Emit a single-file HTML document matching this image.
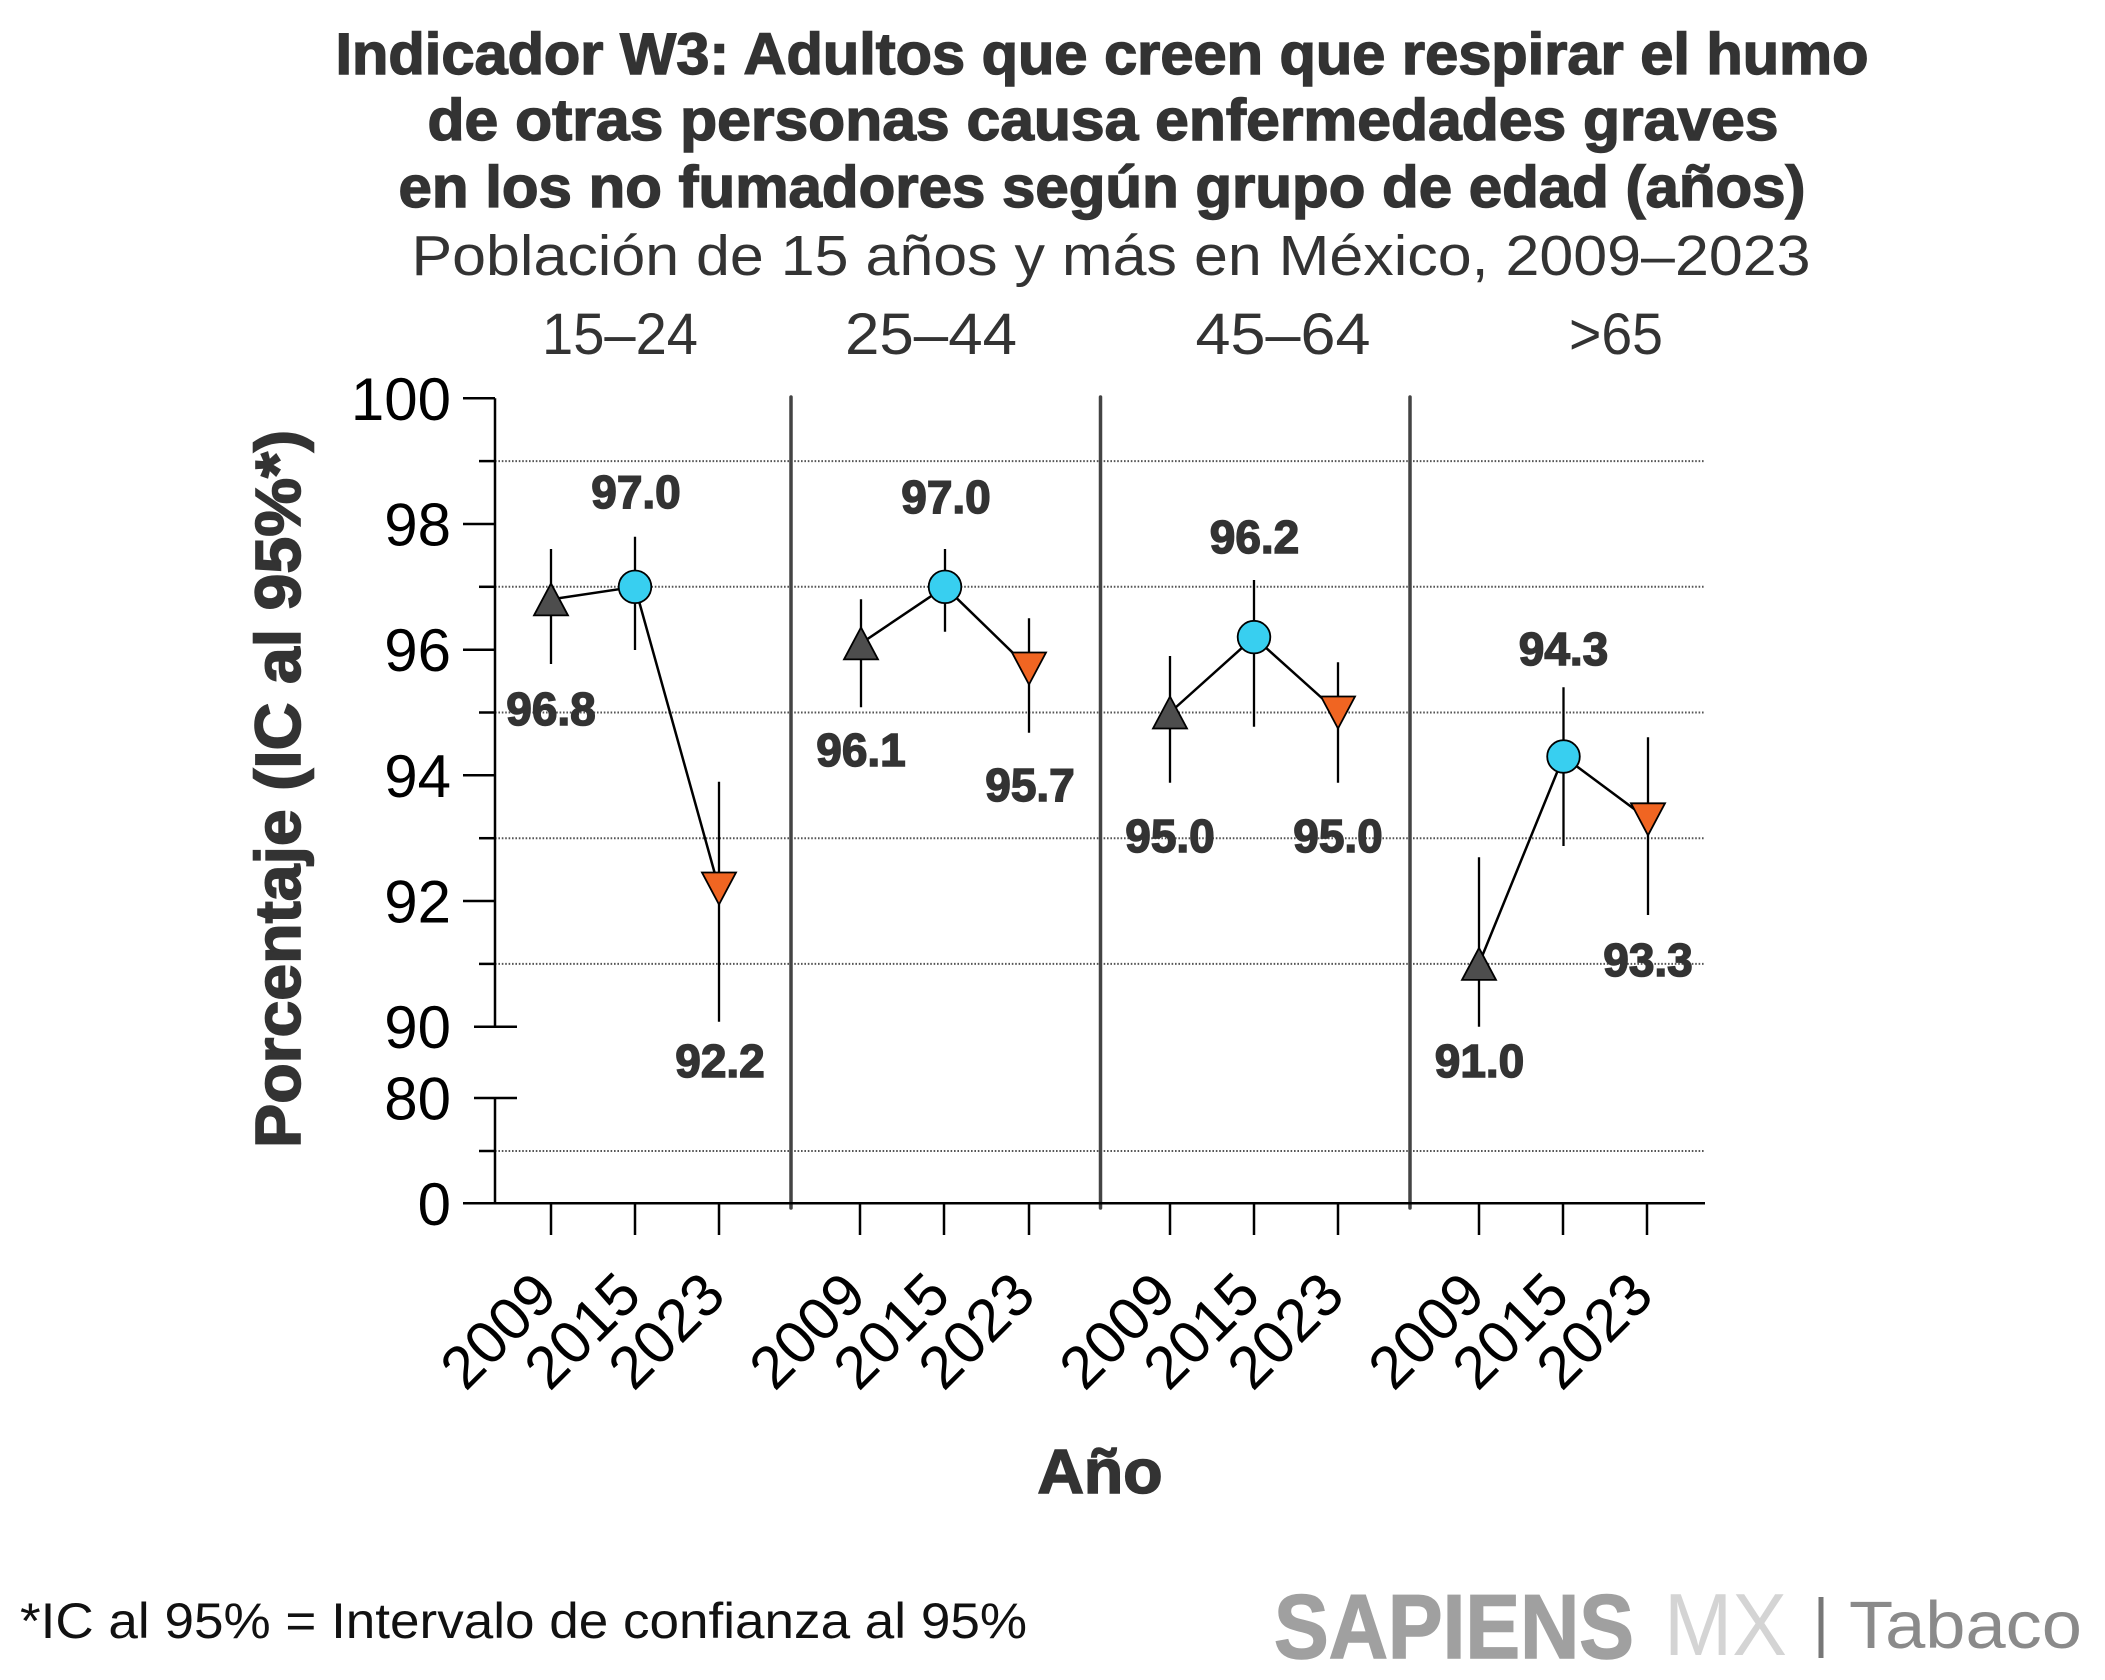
<!DOCTYPE html>
<html>
<head>
<meta charset="utf-8">
<style>
  html, body { margin: 0; padding: 0; background: #ffffff; }
  svg { display: block; }
  .t { font-family: "Liberation Sans", "DejaVu Sans", sans-serif; }
</style>
</head>
<body>
<svg width="2105" height="1680" viewBox="0 0 2105 1680" xmlns="http://www.w3.org/2000/svg">
  <rect x="0" y="0" width="2105" height="1680" fill="#ffffff"/>

  <!-- Title -->
  <g class="t" fill="#333333" stroke="#333333" stroke-width="1.4" font-weight="bold" font-size="58" text-anchor="middle">
    <text x="1102" y="74" textLength="1533" lengthAdjust="spacingAndGlyphs">Indicador W3: Adultos que creen que respirar el humo</text>
    <text x="1103" y="140" textLength="1351" lengthAdjust="spacingAndGlyphs">de otras personas causa enfermedades graves</text>
    <text x="1102" y="207" textLength="1407" lengthAdjust="spacingAndGlyphs">en los no fumadores según grupo de edad (años)</text>
  </g>
  <text class="t" x="1111" y="275" fill="#333333" font-size="57" text-anchor="middle" textLength="1399" lengthAdjust="spacingAndGlyphs">Población de 15 años y más en México, 2009–2023</text>

  <!-- Panel headers -->
  <g class="t" fill="#333333" font-size="58" text-anchor="middle">
    <text x="620" y="354" textLength="156" lengthAdjust="spacingAndGlyphs">15–24</text>
    <text x="931" y="354" textLength="172" lengthAdjust="spacingAndGlyphs">25–44</text>
    <text x="1283" y="354" textLength="175" lengthAdjust="spacingAndGlyphs">45–64</text>
    <text x="1616" y="354" textLength="94" lengthAdjust="spacingAndGlyphs">&gt;65</text>
  </g>

  <!-- Dotted gridlines -->
  <g stroke="#555555" stroke-width="2" stroke-dasharray="1.6 1.8" fill="none">
    <line x1="495" y1="461.1" x2="1705" y2="461.1"/>
    <line x1="495" y1="586.8" x2="1705" y2="586.8"/>
    <line x1="495" y1="712.5" x2="1705" y2="712.5"/>
    <line x1="495" y1="838.2" x2="1705" y2="838.2"/>
    <line x1="495" y1="963.9" x2="1705" y2="963.9"/>
    <line x1="495" y1="1151" x2="1705" y2="1151"/>
  </g>

  <!-- Panel dividers -->
  <g stroke="#444444" stroke-width="3.5" stroke-linecap="round">
    <line x1="791" y1="397" x2="791" y2="1208"/>
    <line x1="1100.5" y1="397" x2="1100.5" y2="1208"/>
    <line x1="1410" y1="397" x2="1410" y2="1208"/>
  </g>

  <!-- Y axis (broken) -->
  <g stroke="#000000" stroke-width="2.5" fill="none">
    <line x1="495" y1="398.3" x2="495" y2="1026.7"/>
    <line x1="495" y1="1098" x2="495" y2="1203.3"/>
    <line x1="463" y1="398.3" x2="495" y2="398.3"/>
    <line x1="463" y1="524" x2="495" y2="524"/>
    <line x1="463" y1="649.7" x2="495" y2="649.7"/>
    <line x1="463" y1="775.3" x2="495" y2="775.3"/>
    <line x1="463" y1="901" x2="495" y2="901"/>
    <line x1="474" y1="1026.7" x2="517" y2="1026.7"/>
    <line x1="474" y1="1098" x2="517" y2="1098"/>
    <line x1="479" y1="461.1" x2="495" y2="461.1"/>
    <line x1="479" y1="586.8" x2="495" y2="586.8"/>
    <line x1="479" y1="712.5" x2="495" y2="712.5"/>
    <line x1="479" y1="838.2" x2="495" y2="838.2"/>
    <line x1="479" y1="963.9" x2="495" y2="963.9"/>
    <line x1="479" y1="1151" x2="495" y2="1151"/>
    <line x1="463" y1="1203.3" x2="1705" y2="1203.3"/>
    <line x1="551" y1="1203.3" x2="551" y2="1235"/>
    <line x1="635" y1="1203.3" x2="635" y2="1235"/>
    <line x1="719" y1="1203.3" x2="719" y2="1235"/>
    <line x1="860" y1="1203.3" x2="860" y2="1235"/>
    <line x1="944" y1="1203.3" x2="944" y2="1235"/>
    <line x1="1029" y1="1203.3" x2="1029" y2="1235"/>
    <line x1="1170" y1="1203.3" x2="1170" y2="1235"/>
    <line x1="1254" y1="1203.3" x2="1254" y2="1235"/>
    <line x1="1338" y1="1203.3" x2="1338" y2="1235"/>
    <line x1="1479" y1="1203.3" x2="1479" y2="1235"/>
    <line x1="1563" y1="1203.3" x2="1563" y2="1235"/>
    <line x1="1647" y1="1203.3" x2="1647" y2="1235"/>
  </g>

  <!-- Y tick labels -->
  <g class="t" fill="#000000" font-size="60" text-anchor="end">
    <text x="451" y="420">100</text>
    <text x="451" y="545.5">98</text>
    <text x="451" y="671">96</text>
    <text x="451" y="797">94</text>
    <text x="451" y="922.5">92</text>
    <text x="451" y="1048">90</text>
    <text x="451" y="1119.5">80</text>
    <text x="451" y="1225">0</text>
  </g>

  <!-- Y axis title -->
  <text class="t" transform="translate(300,789) rotate(-90)" fill="#333333" stroke="#333333" stroke-width="1.6" font-weight="bold" font-size="64" text-anchor="middle" textLength="718" lengthAdjust="spacingAndGlyphs">Porcentaje (IC al 95%*)</text>

  <!-- X tick labels (rotated) -->
  <g class="t" fill="#000000" font-size="60" text-anchor="end">
    <text transform="translate(560,1298) rotate(-45)">2009</text>
    <text transform="translate(644,1298) rotate(-45)">2015</text>
    <text transform="translate(728,1298) rotate(-45)">2023</text>
    <text transform="translate(869,1298) rotate(-45)">2009</text>
    <text transform="translate(953,1298) rotate(-45)">2015</text>
    <text transform="translate(1038,1298) rotate(-45)">2023</text>
    <text transform="translate(1179,1298) rotate(-45)">2009</text>
    <text transform="translate(1263,1298) rotate(-45)">2015</text>
    <text transform="translate(1347,1298) rotate(-45)">2023</text>
    <text transform="translate(1488,1298) rotate(-45)">2009</text>
    <text transform="translate(1572,1298) rotate(-45)">2015</text>
    <text transform="translate(1656,1298) rotate(-45)">2023</text>
  </g>

  <!-- X axis title -->
  <text class="t" x="1100" y="1493" fill="#333333" stroke="#333333" stroke-width="1.6" font-weight="bold" font-size="62" text-anchor="middle" textLength="125" lengthAdjust="spacingAndGlyphs">Año</text>

  <!-- Error bars -->
  <g stroke="#000000" stroke-width="2.3">
    <line x1="551" y1="549" x2="551" y2="664"/>
    <line x1="635" y1="536.7" x2="635" y2="650"/>
    <line x1="719" y1="781.7" x2="719" y2="1021.7"/>
    <line x1="861" y1="599.3" x2="861" y2="707.3"/>
    <line x1="945" y1="549" x2="945" y2="631.7"/>
    <line x1="1029" y1="618.3" x2="1029" y2="732.7"/>
    <line x1="1170" y1="656" x2="1170" y2="782.7"/>
    <line x1="1254" y1="580" x2="1254" y2="726.7"/>
    <line x1="1338" y1="662.3" x2="1338" y2="782.7"/>
    <line x1="1479" y1="857.3" x2="1479" y2="1026.7"/>
    <line x1="1563.5" y1="687.3" x2="1563.5" y2="846"/>
    <line x1="1648" y1="737.3" x2="1648" y2="915"/>
  </g>

  <!-- Connecting lines -->
  <g stroke="#000000" stroke-width="2.5" fill="none" stroke-linejoin="round">
    <polyline points="551,599.4 635,586.8 719,888.5"/>
    <polyline points="861,643.4 945,586.8 1029,668.5"/>
    <polyline points="1170,712.5 1254,637.1 1338,712.5"/>
    <polyline points="1479,963.9 1563.5,756.5 1648,819.3"/>
  </g>

  <!-- Markers -->
  <g stroke="#000000" stroke-width="1.8" stroke-linejoin="miter">
    <polygon fill="#4d4d4d" points="551,583.4 534,615.4 568,615.4"/>
    <polygon fill="#4d4d4d" points="861,627.4 844,659.4 878,659.4"/>
    <polygon fill="#4d4d4d" points="1170,696.5 1153,728.5 1187,728.5"/>
    <polygon fill="#4d4d4d" points="1479,947.9 1462,979.9 1496,979.9"/>
    <circle fill="#38cff0" cx="635" cy="586.8" r="16.3"/>
    <circle fill="#38cff0" cx="945" cy="586.8" r="16.3"/>
    <circle fill="#38cff0" cx="1254" cy="637.1" r="16.3"/>
    <circle fill="#38cff0" cx="1563.5" cy="756.5" r="16.3"/>
    <polygon fill="#f06522" points="702,872.5 736,872.5 719,904.5"/>
    <polygon fill="#f06522" points="1012,652.5 1046,652.5 1029,684.5"/>
    <polygon fill="#f06522" points="1321,696.5 1355,696.5 1338,728.5"/>
    <polygon fill="#f06522" points="1631,803.3 1665,803.3 1648,835.3"/>
  </g>

  <!-- Value labels -->
  <g class="t" fill="#333333" stroke="#333333" stroke-width="1.5" font-weight="bold" font-size="46" text-anchor="middle">
    <text x="551" y="725">96.8</text>
    <text x="636" y="508">97.0</text>
    <text x="720" y="1077">92.2</text>
    <text x="861" y="766">96.1</text>
    <text x="946" y="513">97.0</text>
    <text x="1030" y="801">95.7</text>
    <text x="1170" y="852">95.0</text>
    <text x="1254.5" y="553">96.2</text>
    <text x="1338" y="852">95.0</text>
    <text x="1479.5" y="1077">91.0</text>
    <text x="1563.5" y="665">94.3</text>
    <text x="1648" y="976">93.3</text>
  </g>

  <!-- Footnote -->
  <text class="t" x="20" y="1638" fill="#111111" font-size="50" textLength="1007" lengthAdjust="spacingAndGlyphs">*IC al 95% = Intervalo de confianza al 95%</text>

  <!-- Branding -->
  <text class="t" x="1274" y="1658" fill="#a0a0a0" stroke="#a0a0a0" stroke-width="1.5" font-weight="bold" font-size="91" textLength="360" lengthAdjust="spacingAndGlyphs">SAPIENS</text>
  <text class="t" x="1664" y="1655" fill="#d4d4d4" font-size="88" textLength="123" lengthAdjust="spacingAndGlyphs">MX</text>
  <line x1="1821" y1="1597" x2="1821" y2="1658" stroke="#777777" stroke-width="5"/>
  <text class="t" x="1849" y="1648" fill="#8a8a8a" font-size="67" textLength="233" lengthAdjust="spacingAndGlyphs">Tabaco</text>
</svg>
</body>
</html>
